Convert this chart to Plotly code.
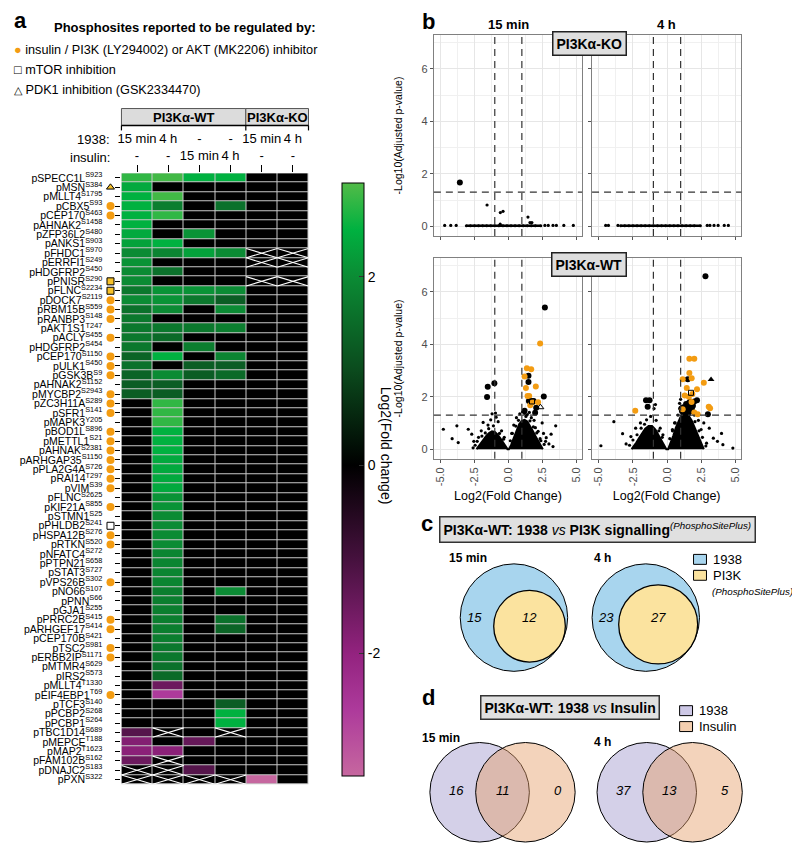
import plotly.graph_objects as go

# the page body has an 8px margin, so the figure is drawn 8px in from the corner
OFF = 8
W, H = 800 - OFF, 849 - OFF
FONT = "Arial, Liberation Sans, sans-serif"
ORANGE = "#f39c12"


def px(x):
    return (x - OFF) / W


def py(y):
    return 1 - (y - OFF) / H


# ---------------- panel a: heatmap data ----------------
genes = ["SPECC1L", "MSN", "MLLT4", "CBX5", "CEP170", "AHNAK2", "ZFP36L2", "ANKS1", "FHDC1", "ERRFI1",
         "HDGFRP2", "PNISR", "FLNC", "DOCK7", "RBM15B", "RANBP3", "AKT1S1", "ACLY", "HDGFRP2", "CEP170",
         "ULK1", "GSK3B", "AHNAK2", "MYCBP2", "ZC3H11A", "SFR1", "MAPK3", "BOD1L", "METTL1", "AHNAK",
         "ARHGAP35", "PLA2G4A", "RAI14", "VIM", "FLNC", "KIF21A", "STMN1", "PHLDB2", "HSPA12B", "RTKN",
         "NFATC4", "PTPN21", "STAT3", "VPS26B", "NO66", "PNN", "GJA1", "PRRC2B", "ARHGEF17", "CEP170B",
         "TSC2", "ERBB2IP", "MTMR4", "IRS2", "MLLT4", "EIF4EBP1", "TCF3", "PCBP2", "PCBP1", "TBC1D14",
         "MEPCE", "MAP2", "FAM102B", "DNAJC2", "PXN"]
sites = ["S923", "S384", "S1795", "S93", "S463", "S1458", "S480", "S903", "S970", "S249",
         "S450", "S290", "S2234", "S2119", "S559", "S148", "T247", "S455", "S454", "S1150",
         "S450", "S9", "S1152", "S2943", "S289", "S141", "Y205", "S896", "S21", "S2381",
         "S1150", "S726", "T297", "S39", "S2625", "S855", "S25", "S241", "S276", "S520",
         "S272", "S658", "S727", "S302", "S107", "S66", "S255", "S415", "S414", "S421",
         "S981", "S1171", "S629", "S573", "T1330", "T69", "S140", "S268", "S264", "S689",
         "T188", "T1623", "S162", "S183", "S322"]
# which earlier report regulates each site
reported = ["", "pdk1", "", "akt", "akt", "", "", "", "", "",
            "", "both", "both", "akt", "akt", "akt", "", "akt", "", "akt",
            "akt", "akt", "", "akt", "akt", "akt", "", "akt", "akt", "akt",
            "akt", "akt", "akt", "akt", "", "akt", "", "mtor", "akt", "akt",
            "", "", "", "akt", "", "", "", "akt", "akt", "",
            "akt", "akt", "", "", "", "akt", "", "", "", "",
            "", "", "", "", ""]
treat_1938 = ["15 min", "4 h", "-", "-", "15 min", "4 h"]
treat_insulin = ["-", "-", "15 min", "4 h", "-", "-"]
N = None
log2fc = [
    [2.8, 2.9, 2.5, 2.5, 0, 0],
    [2.4, 0, 0, 0, 0, 0],
    [2.5, 2.9, 0, 0, 0, 0],
    [2.5, 1.8, 0, 1.6, 0, 0],
    [2.5, 2.8, 0, 0, 0, 0],
    [2.5, 0, 0, 0, 0, 0],
    [2.4, 0, 2.1, 0, 0, 0],
    [2.3, 2.5, 0, 0, 0, 0],
    [2.0, 1.9, 2.3, 2.0, N, N],
    [2.1, 0, 0, 0, N, N],
    [2.0, 1.6, 0, 0, 0, 0],
    [2.0, 0, 0, 0, N, N],
    [1.7, 2.1, 2.1, 2.0, 0, 0],
    [2.0, 2.1, 1.7, 1.3, 0, 0],
    [1.6, 2.0, 0, 2.0, 0, 0],
    [1.7, 0, 0, 0, 0, 0],
    [1.7, 1.7, 1.7, 1.8, 0, 0],
    [1.7, 1.5, 0, 0, 0, 0],
    [1.7, 0, 1.8, 0, 0, 0],
    [1.4, 2.5, 0, 1.9, 0, 0],
    [1.6, 0, 1.3, 1.3, 0, 0],
    [1.4, 2.0, 1.3, 1.5, 0, 0],
    [1.3, 1.3, 0, 0, 0, 0],
    [1.3, 1.3, 0, 0, 0, 0],
    [0, 2.8, 0, 0, 0, 0],
    [0, 2.8, 0, 0, 0, 0],
    [0, 2.8, 0, 0, 0, 0],
    [0, 2.5, 0, 0, 0, 0],
    [0, 2.5, 0, 0, 0, 0],
    [0, 2.5, 0, 0, 0, 0],
    [0, 2.4, 0, 0, 0, 0],
    [0, 2.4, 0, 0, 0, 0],
    [0, 2.4, 0, 0, 0, 0],
    [0, 2.4, 0, 0, 0, 0],
    [0, 2.1, 0, 0, 0, 0],
    [0, 2.1, 0, 0, 0, 0],
    [0, 2.0, 0, 0, 0, 0],
    [0, 2.0, 0, 0, 0, 0],
    [0, 2.0, 0, 0, 0, 0],
    [0, 2.0, 0, 0, 0, 0],
    [0, 1.9, 0, 0, 0, 0],
    [0, 1.9, 0, 0, 0, 0],
    [0, 1.9, 0, 0, 0, 0],
    [0, 1.9, 0, 0, 0, 0],
    [0, 1.8, 0, 2.0, 0, 0],
    [0, 1.8, 0, 0, 0, 0],
    [0, 1.8, 0, 0, 0, 0],
    [0, 1.8, 0, 1.6, 0, 0],
    [0, 1.8, 0, 1.4, 0, 0],
    [0, 1.8, 0, 0, 0, 0],
    [0, 1.7, 0, 0, 0, 0],
    [0, 1.7, 0, 0, 0, 0],
    [0, 1.6, 0, 0, 0, 0],
    [0, 1.5, 0, 0, 0, 0],
    [0, -1.5, 0, 0, 0, 0],
    [0, -2.6, 0, 0, 0, 0],
    [0, 0, 0, 1.3, 0, 0],
    [0, 0, 0, 2.5, 0, 0],
    [0, 0, 0, 2.5, 0, 0],
    [-1.2, N, 0, N, 0, 0],
    [-1.8, 0, -1.4, 0, 0, 0],
    [-1.9, -1.9, 0, 0, 0, 0],
    [-1.5, N, 0, 0, 0, 0],
    [N, N, -1.2, 0, 0, 0],
    [N, N, N, N, -3.3, 0],
]

# ---------------- panel b: volcano data (log2 FC, -log10 adj p) ----------------
# KO: almost every site sits on the baseline; the strip is the run of them
ko15_strip = [(-3.1, 0.02), (-2.8, 0.02), (-2.5, 0.02), (-2.2, 0.02), (-1.9, 0.02), (-1.6, 0.02),
              (-1.3, 0.02), (-1.0, 0.02), (-0.7, 0.02), (-0.4, 0.02), (-0.1, 0.02), (0.2, 0.02),
              (0.5, 0.02), (0.8, 0.02), (1.1, 0.02), (1.4, 0.02), (1.7, 0.02), (2.0, 0.02),
              (2.4, 0.02)]
ko15_small = [(-4.7, 0.03), (-4.25, 0.03), (-3.85, 0.03), (2.7, 0.03), (2.95, 0.03), (3.3, 0.03),
              (3.55, 0.03), (4.1, 0.03), (4.8, 0.03), (-1.57, 0.81), (-0.59, 0.52), (-0.39, 0.57),
              (-0.6, 0.08), (1.45, 0.35), (1.6, 0.14), (1.74, 0.14)]
ko15_big = [(-3.58, 1.67)]
ko4h_strip = [(-3.4, 0.02), (-3.1, 0.02), (-2.8, 0.02), (-2.5, 0.02), (-2.2, 0.02), (-1.9, 0.02),
              (-1.6, 0.02), (-1.3, 0.02), (-1.0, 0.02), (-0.7, 0.02), (-0.4, 0.02), (-0.1, 0.02),
              (0.2, 0.02), (0.5, 0.02), (0.8, 0.02), (1.1, 0.02), (1.4, 0.02), (1.7, 0.02),
              (2.0, 0.02), (2.45, 0.02)]
ko4h_small = [(-4.5, 0.03), (-4.3, 0.03), (-3.6, 0.03), (2.95, 0.03), (3.15, 0.03), (3.45, 0.03),
              (3.75, 0.03), (4.2, 0.03), (4.5, 0.03)]
ko4h_big = []

# outline of the dense bulk of points (too many to list one by one)
wt15_cloud = [(-2.35, 0), (-2.2, 0.1), (-2.0, 0.25), (-1.8, 0.4), (-1.6, 0.52), (-1.4, 0.62),
              (-1.2, 0.68), (-1.0, 0.66), (-0.8, 0.56), (-0.6, 0.42), (-0.4, 0.26), (-0.2, 0.1),
              (-0.06, 0), (0.04, 0), (0.2, 0.15), (0.4, 0.42), (0.6, 0.72), (0.8, 0.95), (1.0, 1.08),
              (1.2, 1.12), (1.4, 1.06), (1.6, 0.9), (1.8, 0.7), (2.0, 0.5), (2.2, 0.3), (2.4, 0.12),
              (2.55, 0)]
wt15_small = [(-4.8, 0.76), (-3.8, 0.89), (-3.7, 0.25), (-4.15, 0.4), (-2.96, 0.76), (-2.7, 0.57),
              (-2.55, 0.3), (-2.2, 0.45), (-2.0, 0.7), (-1.86, 1.02), (-1.5, 0.92), (-1.3, 1.12),
              (-1.1, 0.89), (-0.9, 1.22), (-0.75, 1.05), (-0.5, 0.7), (-0.3, 0.45), (0.25, 0.6),
              (0.4, 0.92), (0.6, 1.2), (0.85, 1.35), (1.05, 1.42), (1.4, 1.32), (1.7, 1.2),
              (1.9, 1.1), (2.0, 0.82), (2.2, 0.68), (2.5, 1.0), (2.6, 0.6), (2.4, 0.32),
              (2.8, 0.44), (3.0, 0.2), (3.16, 0.57), (3.5, 0.89), (-1.2, 1.35), (-0.95, 1.38),
              (1.2, 1.36), (1.55, 1.4), (-2.45, 0.15), (-2.3, 0.3), (-1.95, 0.5), (-1.7, 0.62),
              (-1.45, 0.78), (-0.65, 0.6), (-0.35, 0.38), (0.15, 0.32), (0.3, 0.6), (0.55, 0.88),
              (0.75, 1.1), (1.3, 1.25), (1.6, 1.08), (1.85, 0.85), (2.1, 0.62), (2.35, 0.4),
              (2.65, 0.18), (2.75, 0.3), (-2.6, 0.05), (3.3, 0.1)]
wt15_big = [(-1.57, 1.99), (-1.52, 2.38), (-1.03, 2.51), (1.2, 1.47), (1.49, 2.8), (1.49, 2.56),
            (1.52, 1.84), (1.7, 1.84), (1.87, 1.84), (2.06, 1.58), (1.98, 1.39), (2.62, 2.01),
            (2.7, 5.4)]
wt15_orange = [(2.35, 4.03), (1.37, 3.09), (1.69, 3.05), (1.2, 2.77), (2.03, 2.39), (1.3, 2.33),
               (1.42, 2.03), (1.54, 2.03), (2.2, 1.79), (1.62, 1.68), (1.8, 1.79)]
wt15_square = [(1.75, 1.82)]
wt15_triangle = [(2.37, 1.6)]

wt4h_cloud = [(-2.6, 0), (-2.45, 0.1), (-2.25, 0.25), (-2.05, 0.42), (-1.85, 0.6), (-1.6, 0.78),
              (-1.35, 0.88), (-1.1, 0.88), (-0.85, 0.75), (-0.6, 0.52), (-0.38, 0.3), (-0.18, 0.1),
              (-0.05, 0), (0.08, 0), (0.25, 0.2), (0.45, 0.5), (0.65, 0.82), (0.85, 1.1), (1.05, 1.3),
              (1.3, 1.38), (1.55, 1.3), (1.8, 1.1), (2.05, 0.8), (2.3, 0.5), (2.5, 0.25), (2.7, 0)]
wt4h_small = [(-4.85, 0.13), (-3.9, 1.05), (-3.26, 0.59), (-3.0, 0.2), (-2.65, 0.48), (-2.3, 0.8),
              (-1.95, 1.0), (-1.5, 1.12), (-1.2, 1.25), (-0.8, 1.1), (-0.5, 0.8), (-0.3, 0.55),
              (-0.95, 1.55), (-0.85, 1.7), (0.4, 0.75), (0.55, 1.0), (0.8, 1.3), (0.95, 1.55),
              (0.92, 1.75), (1.0, 1.9), (2.0, 1.3), (2.3, 1.1), (2.5, 0.75), (2.7, 1.0),
              (2.9, 0.23), (3.1, 0.8), (3.4, 0.42), (3.7, 0.3), (4.0, 0.6), (4.1, 0.17), (4.83, 0.04),
              (-2.75, 0.15), (-2.5, 0.35), (-2.2, 0.55), (-1.9, 0.8), (-1.65, 0.95), (-0.6, 0.7),
              (-0.35, 0.45), (0.2, 0.4), (0.4, 0.7), (0.6, 1.0), (1.5, 1.5), (1.75, 1.4),
              (2.05, 1.05), (2.35, 0.7), (2.6, 0.45), (2.85, 0.12)]
wt4h_big = [(2.82, 6.6), (1.52, 2.67), (-1.54, 1.87), (-1.28, 1.87), (-1.42, 1.62), (3.0, 1.33),
            (2.2, 1.87), (1.05, 1.55), (1.1, 1.45), (1.2, 1.6), (1.3, 1.5), (1.4, 1.72), (1.5, 1.6),
            (1.6, 1.76), (1.7, 1.82), (1.82, 1.55), (1.35, 1.35), (1.55, 1.35), (2.0, 1.82),
            (1.9, 1.66), (1.25, 1.3), (1.65, 1.45)]
wt4h_orange = [(1.64, 3.45), (2.0, 3.45), (1.64, 2.91), (1.15, 2.67), (1.81, 2.71), (2.7, 2.53),
               (1.45, 2.33), (2.2, 2.29), (1.86, 2.1), (1.3, 2.05), (-2.33, 1.47), (3.06, 1.62),
               (3.16, 1.56), (1.15, 1.52), (2.0, 1.4), (2.25, 1.33), (1.8, 1.8), (1.6, 2.0)]
wt4h_square = [(1.76, 2.15)]
wt4h_triangle = [(3.23, 2.66)]

FC_CUT = 1.0
P_CUT = 1.301

# ---------------- panels c and d: Venn counts ----------------
venn_c_15 = (15, 12)      # 1938 only, shared with PI3K set
venn_c_4h = (23, 27)
venn_d_15 = (16, 11, 0)   # 1938 only, shared, insulin only
venn_d_4h = (37, 13, 5)

fig = go.Figure()

# ---------------- heatmap ----------------
nrow = len(genes)
z_show = [[0 if v is None else v for v in row] for row in log2fc]
CS = [[0.0, "#c6679f"], [0.112, "#ad3a9b"], [0.206, "#93237f"], [0.365, "#46113e"],
      [0.524, "#000000"], [0.683, "#0b4a1d"], [0.841, "#0b8b34"], [0.921, "#00b140"],
      [1.0, "#52bb48"]]
fig.add_trace(go.Heatmap(
    z=z_show, x=list(range(6)), y=list(range(nrow)), zmin=-3.3, zmax=3.0,
    colorscale=CS, xgap=1, ygap=1, hoverinfo="skip",
    colorbar=dict(x=px(330), xanchor="left", xref="paper", y=py(478.5), yanchor="middle",
                  len=613, lenmode="pixels", thickness=22, thicknessmode="pixels",
                  outlinewidth=1, outlinecolor="black", tickvals=[-2, 0, 2],
                  ticktext=["-2", "0", "2"], ticks="inside", ticklen=5, tickcolor="#333",
                  tickfont=dict(size=14, color="black", family=FONT)),
))

# crosses over missing cells
cx, cy = [], []
for r, row in enumerate(log2fc):
    for c, v in enumerate(row):
        if v is None:
            cx += [c - 0.5, c + 0.5, None, c - 0.5, c + 0.5, None]
            cy += [r - 0.5, r + 0.5, None, r + 0.5, r - 0.5, None]
fig.add_trace(go.Scatter(x=cx, y=cy, mode="lines", line=dict(color="white", width=1.1),
                         hoverinfo="skip", xaxis="x", yaxis="y"))

# reported markers next to labels
mk_style = {
    "akt": dict(symbol="circle", color=ORANGE, size=8, line=dict(width=0)),
    "both": dict(symbol="square", color="#f6c12a", size=7, line=dict(color="black", width=1)),
    "mtor": dict(symbol="square", color="white", size=7, line=dict(color="black", width=1)),
    "pdk1": dict(symbol="triangle-up", color="#f6c12a", size=7, line=dict(color="black", width=1)),
}
for kind, style in mk_style.items():
    rows = [i for i, k in enumerate(reported) if k == kind]
    fig.add_trace(go.Scatter(x=[0.5] * len(rows), y=rows, mode="markers", marker=style,
                             hoverinfo="skip", xaxis="x2", yaxis="y"))

ylabels = [f"p{g}<sup>{s}</sup>" for g, s in zip(genes, sites)]
xlabels = [f"{a}<br>{b}" for a, b in zip(treat_1938, treat_insulin)]

layout = dict(
    width=W, height=H, margin=dict(l=0, r=0, t=0, b=0),
    paper_bgcolor="white", plot_bgcolor="white", showlegend=False,
    font=dict(family=FONT, color="black"),
    xaxis=dict(domain=[px(118), px(306)], anchor="y", side="top", range=[-0.5, 5.5],
               tickvals=list(range(6)), ticktext=xlabels, ticks="outside", ticklen=7,
               tickcolor="black", tickfont=dict(size=13), showgrid=False, zeroline=False,
               showline=False),
    yaxis=dict(domain=[py(785), py(171)], anchor="x", range=[nrow - 0.5, -0.5],
               tickvals=list(range(nrow)), ticktext=ylabels, ticks="outside", ticklen=5,
               tickcolor="black", tickfont=dict(size=10.5), ticklabelstandoff=11,
               showgrid=False, zeroline=False, showline=False),
    xaxis2=dict(domain=[px(100), px(114)], anchor="y", range=[0, 1], visible=False),
)

# ---------------- volcano panels ----------------
panels = [
    ("3", [432, 581], [32, 234], ko15_strip, ko15_small, ko15_big, [], [], [], [], None),
    ("4", [591, 741], [32, 234], ko4h_strip, ko4h_small, ko4h_big, [], [], [], [], None),
    ("5", [432, 581], [256, 458], [], wt15_small, wt15_big, wt15_orange, wt15_square, wt15_triangle,
     wt15_cloud, "open"),
    ("6", [591, 741], [256, 458], [], wt4h_small, wt4h_big, wt4h_orange, wt4h_square, wt4h_triangle,
     wt4h_cloud, "filled"),
]
for n, (k, xd, yd, strip, small, big, orange, sq, tri, cloud, tri_kind) in enumerate(panels):
    xa, ya = "x" + k, "y" + k
    left = n % 2 == 0
    bottom = n >= 2
    layout["xaxis" + k] = dict(
        domain=[px(xd[0]), px(xd[1])], anchor=ya, range=[-5.5, 5.45],
        tickvals=[-5, -2.5, 0, 2.5, 5], ticktext=["-5.0", "-2.5", "0.0", "2.5", "5.0"],
        showticklabels=bottom, tickangle=-90, tickfont=dict(size=11, color="#4d4d4d"),
        ticks="outside", ticklen=3, tickcolor="#555", showgrid=True, gridcolor="#e6e6e6",
        minor=dict(tickvals=[-3.75, -1.25, 1.25, 3.75], showgrid=True, gridcolor="#f0f0f0"),
        zeroline=False, showline=True, mirror=True, linecolor="#808080", linewidth=1,
        title=dict(text="Log2(Fold Change)" if bottom else "", font=dict(size=12.5), standoff=6))
    layout["yaxis" + k] = dict(
        domain=[py(yd[1]), py(yd[0])], anchor=xa, range=[-0.37, 7.3],
        tickvals=[0, 2, 4, 6], showticklabels=left, tickfont=dict(size=11, color="#4d4d4d"),
        ticks="outside", ticklen=3, tickcolor="#555", showgrid=True, gridcolor="#e6e6e6",
        minor=dict(tickvals=[1, 3, 5, 7], showgrid=True, gridcolor="#f0f0f0"),
        zeroline=False, showline=True, mirror=True, linecolor="#808080", linewidth=1)
    if cloud:
        fig.add_trace(go.Scatter(x=[p[0] for p in cloud], y=[p[1] for p in cloud], fill="toself",
                                 fillcolor="black", mode="lines", line=dict(color="black", width=2),
                                 hoverinfo="skip", xaxis=xa, yaxis=ya))
    if strip:
        fig.add_trace(go.Scatter(x=[p[0] for p in strip], y=[p[1] for p in strip],
                                 mode="lines+markers", line=dict(color="black", width=2.6),
                                 marker=dict(color="black", size=3), hoverinfo="skip",
                                 xaxis=xa, yaxis=ya))
    fig.add_trace(go.Scatter(x=[p[0] for p in small], y=[p[1] for p in small], mode="markers",
                             marker=dict(color="black", size=3.2), hoverinfo="skip",
                             xaxis=xa, yaxis=ya))
    for pts, col in ((big, "black"), (orange, ORANGE)):
        if pts:
            fig.add_trace(go.Scatter(x=[p[0] for p in pts], y=[p[1] for p in pts], mode="markers",
                                     marker=dict(color=col, size=6), hoverinfo="skip",
                                     xaxis=xa, yaxis=ya))
    if sq:
        fig.add_trace(go.Scatter(x=[p[0] for p in sq], y=[p[1] for p in sq], mode="markers",
                                 marker=dict(symbol="square-open", color="black", size=5),
                                 hoverinfo="skip", xaxis=xa, yaxis=ya))
    if tri:
        fig.add_trace(go.Scatter(x=[p[0] for p in tri], y=[p[1] for p in tri], mode="markers",
                                 marker=dict(symbol="triangle-up-open" if tri_kind == "open"
                                             else "triangle-up", color="black", size=6),
                                 hoverinfo="skip", xaxis=xa, yaxis=ya))
    dash = dict(color="#333", width=1.2, dash="7px,5px")
    for xv in (-FC_CUT, FC_CUT):
        fig.add_shape(type="line", xref=xa, yref=ya + " domain", x0=xv, x1=xv, y0=0, y1=1, line=dash)
    fig.add_shape(type="line", xref=xa + " domain", yref=ya, x0=0, x1=1, y0=P_CUT, y1=P_CUT, line=dash)

fig.update_layout(**layout)

# ---------------- shapes & annotations ----------------
ann = []


def note(text, x, y, size=13, xanchor="center", yanchor="middle", angle=0, color="black", **kw):
    ann.append(dict(text=text, x=px(x), y=py(y), xref="paper", yref="paper", showarrow=False,
                    xanchor=xanchor, yanchor=yanchor, textangle=angle,
                    font=dict(size=size, color=color, family=FONT), **kw))


def rect(x0, y0, x1, y1, fill, line="black", width=1, layer="above"):
    fig.add_shape(type="rect", xref="paper", yref="paper", x0=px(x0), x1=px(x1), y0=py(y1), y1=py(y0),
                  fillcolor=fill, line=dict(color=line, width=width), layer=layer)


def circle(cx_, cy_, r, fill, width=1):
    fig.add_shape(type="circle", xref="paper", yref="paper", x0=px(cx_ - r), x1=px(cx_ + r),
                  y0=py(cy_ + r), y1=py(cy_ - r), fillcolor=fill, line=dict(color="black", width=width))


def hline(x0, x1, y, width=1, color="black"):
    fig.add_shape(type="line", xref="paper", yref="paper", x0=px(x0), x1=px(x1), y0=py(y), y1=py(y),
                  line=dict(color=color, width=width))


def vline(x, y0, y1, width=1, color="black"):
    fig.add_shape(type="line", xref="paper", yref="paper", x0=px(x), x1=px(x), y0=py(y0), y1=py(y1),
                  line=dict(color=color, width=width))


# grey grid behind heatmap cells
rect(118, 171, 306, 785, "#c8c8c8", line="#c8c8c8", width=0, layer="below")

# panel a header
note("<b>a</b>", 8, 18, size=22, xanchor="left")
note("<b>Phosphosites reported to be regulated by:</b>", 48, 25, size=13, xanchor="left")
note(f"<span style='color:{ORANGE}'>●</span> insulin / PI3K (LY294002) or AKT (MK2206) inhibitor",
     8, 47, size=12.7, xanchor="left")
note("□ mTOR inhibition", 8, 67, size=12.7, xanchor="left")
note("<span style='font-size:11px'>△</span> PDK1 inhibition (GSK2334470)", 8, 87, size=12.7,
     xanchor="left")
rect(118, 106, 243, 123, "#dcdcdc", line="#555")
rect(243, 106, 306, 123, "#dcdcdc", line="#555")
hline(118, 306, 123, width=1.5)
for xv in (118, 243, 306):
    vline(xv, 123, 128, width=1.2)
note("<b>PI3Kα-WT</b>", 180.5, 115, size=13)
note("<b>PI3Kα-KO</b>", 274.5, 115, size=13)
note("1938:", 109, 137, size=13, xanchor="right")
note("insulin:", 109, 155, size=13, xanchor="right")
note("Log2(Fold change)", 384, 445, size=14, angle=90)

# panel b header
note("<b>b</b>", 418, 19, size=22, xanchor="left")
note("<b>15 min</b>", 507, 22, size=13)
note("<b>4 h</b>", 666, 22, size=13)
note("<b>PI3Kα-KO</b>", 588, 41, size=14, bgcolor="#dedede", bordercolor="#222", borderwidth=1.5,
     borderpad=3)
note("<b>PI3Kα-WT</b>", 588, 263, size=14, bgcolor="#dedede", bordercolor="#222", borderwidth=1.5,
     borderpad=3)
note("-Log10(Adjusted p-value)", 396, 133, size=10.5, angle=-90)
note("-Log10(Adjusted p-value)", 396, 357, size=10.5, angle=-90)

# panel c
C_BLUE, C_YEL = "#a8d5ee", "#fbe39f"
note("<b>c</b>", 417, 523, size=22, xanchor="left")
note("<b>PI3Kα-WT: 1938</b> <i>vs</i> <b>PI3K signalling</b><sup><i>(PhosphoSitePlus)</i></sup>",
     596, 529, size=14, bgcolor="#e0e0e0", bordercolor="#333", borderwidth=1.5, borderpad=3)
R = 54
for (only, shared), (ox, oy), lab, lx in ((venn_c_15, (512.5, 617.5), "15 min", 466),
                                          (venn_c_4h, (645, 617.5), "4 h", 601)):
    r_in = R * (shared / (only + shared)) ** 0.5
    off = R - r_in
    ix, iy = ox + off * 0.87, oy + off * 0.48
    circle(ox, oy, R, C_BLUE)
    circle(ix, iy, r_in, C_YEL, width=1.3)
    note(f"<b>{lab}</b>", lx, 558, size=12)
    note(f"<i>{only}</i>", ox - 40, 617, size=13)
    note(f"<i>{shared}</i>", ix, 617, size=13)
rect(693, 554, 706, 564, C_BLUE)
rect(693, 570, 706, 580, C_YEL)
note("1938", 711, 559, size=13, xanchor="left")
note("PI3K", 711, 575, size=13, xanchor="left")
note("<i>(PhosphoSitePlus)</i>", 710, 591, size=9.8, xanchor="left")

# panel d
D_PUR, D_ORA = "rgba(160,150,205,0.45)", "rgba(228,157,104,0.45)"
note("<b>d</b>", 418, 698, size=22, xanchor="left")
note("<b>PI3Kα-WT: 1938</b> <i>vs</i> <b>Insulin</b>", 569, 708, size=14, bgcolor="#e0e0e0",
     bordercolor="#333", borderwidth=1.5, borderpad=3)
for (a, b, c), cxl, lab, lx, ly in ((venn_d_15, 478, "15 min", 439, 738),
                                    (venn_d_4h, 646, "4 h", 601, 742)):
    circle(cxl, 793, 50, D_PUR)
    circle(cxl + 46, 793, 50, D_ORA)
    note(f"<b>{lab}</b>", lx, ly, size=12)
    note(f"<i>{a}</i>", cxl - 23, 791, size=13)
    note(f"<i>{b}</i>", cxl + 23, 791, size=13)
    note(f"<i>{c}</i>", cxl + 79, 791, size=13)
rect(679, 706, 692, 716, "#cdc8e6")
rect(679, 722, 692, 732, "#f4cfb0")
note("1938", 696, 711, size=13, xanchor="left")
note("Insulin", 696, 727, size=13, xanchor="left")

fig.update_layout(annotations=ann)
fig.write_html("out.html")
